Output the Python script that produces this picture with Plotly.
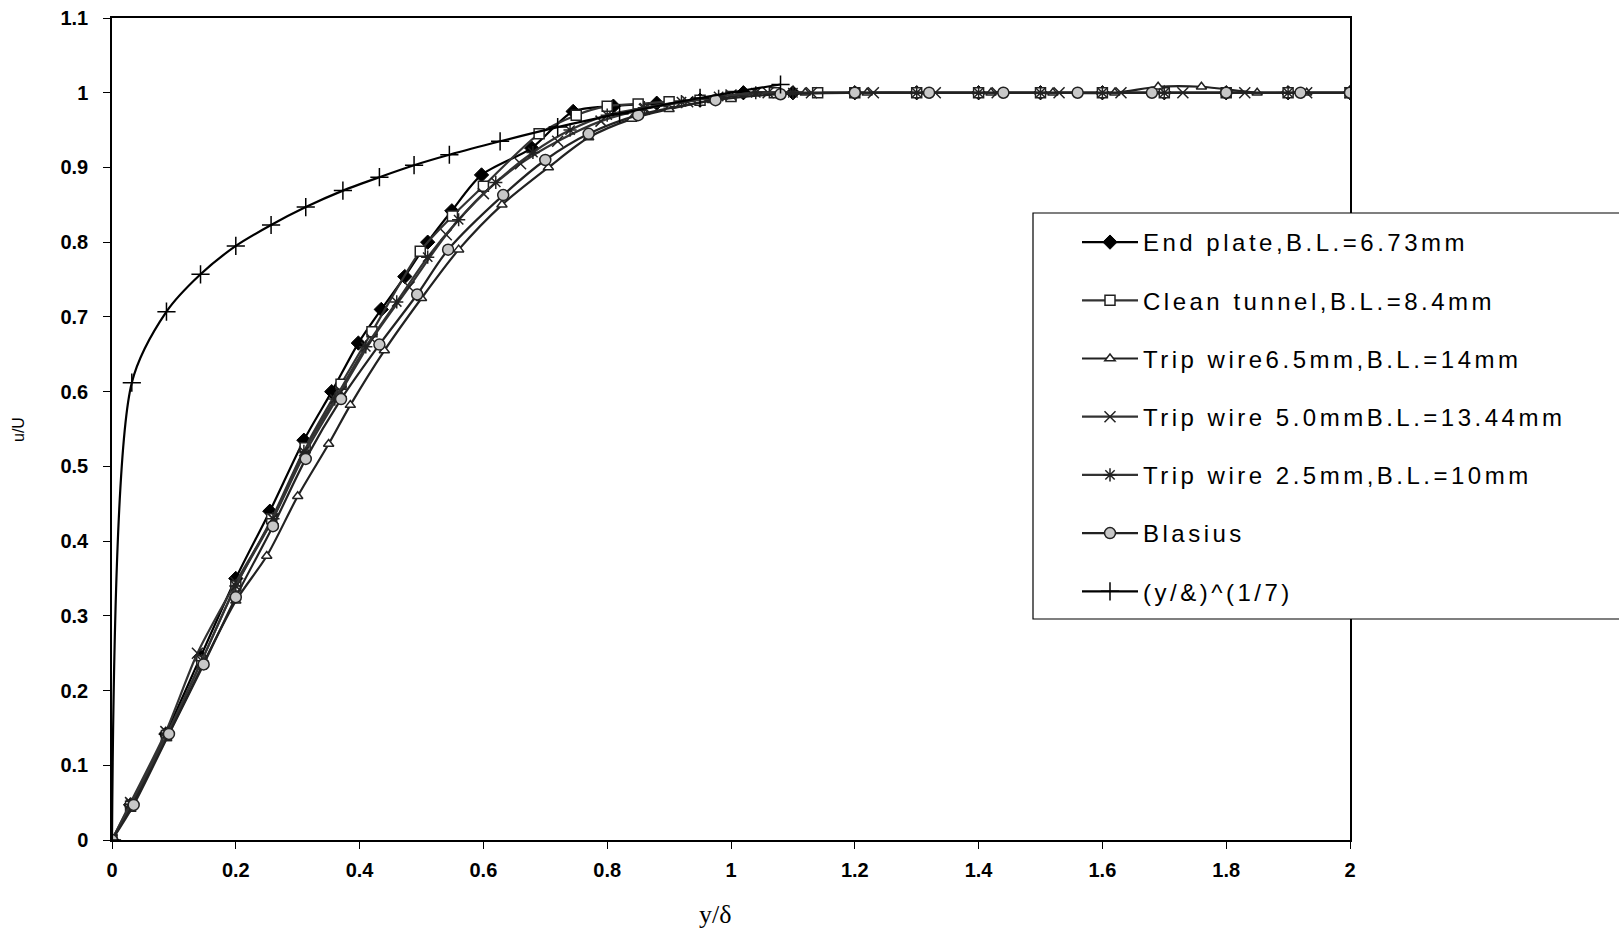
import plotly.graph_objects as go

# ---- data ----
end_plate_x = [0, 0.03, 0.087, 0.143, 0.2, 0.255, 0.31, 0.355, 0.398, 0.435, 0.473, 0.51, 0.549, 0.597, 0.678, 0.745, 0.81, 0.88, 0.95, 1.02, 1.1, 1.2, 1.3, 1.4, 1.5, 1.6, 1.7, 1.8, 1.9, 2.0]
end_plate_y = [0, 0.047, 0.142, 0.245, 0.35, 0.44, 0.535, 0.60, 0.665, 0.71, 0.754, 0.80, 0.842, 0.89, 0.926, 0.975, 0.982, 0.986, 0.99, 1.0, 1.0, 1.0, 1.0, 1.0, 1.0, 1.0, 1.0, 1.0, 1.0, 1.0]

clean_x = [0, 0.03, 0.088, 0.145, 0.2, 0.258, 0.312, 0.37, 0.42, 0.498, 0.55, 0.6, 0.69, 0.75, 0.8, 0.85, 0.9, 0.95, 1.0, 1.07, 1.14, 1.2, 1.3, 1.4, 1.5, 1.6, 1.7, 1.8, 1.9, 2.0]
clean_y = [0, 0.045, 0.14, 0.24, 0.34, 0.43, 0.525, 0.61, 0.68, 0.788, 0.835, 0.875, 0.945, 0.97, 0.982, 0.985, 0.988, 0.99, 0.995, 1.0, 1.0, 1.0, 1.0, 1.0, 1.0, 1.0, 1.0, 1.0, 1.0, 1.0]

trip65_x = [0, 0.03, 0.088, 0.145, 0.2, 0.25, 0.3, 0.35, 0.385, 0.44, 0.5, 0.56, 0.63, 0.705, 0.77, 0.84, 0.9, 0.97, 1.04, 1.12, 1.22, 1.32, 1.42, 1.52, 1.62, 1.69, 1.76, 1.85, 1.93, 2.0]
trip65_y = [0, 0.044, 0.136, 0.232, 0.32, 0.38, 0.46, 0.53, 0.582, 0.655, 0.725, 0.79, 0.85, 0.9, 0.94, 0.965, 0.978, 0.99, 1.0, 1.0, 1.0, 1.0, 1.0, 1.0, 1.0, 1.008, 1.008, 1.0, 1.0, 1.0]

trip50_x = [0, 0.03, 0.087, 0.138, 0.2, 0.26, 0.31, 0.37, 0.42, 0.48, 0.54, 0.6, 0.66, 0.72, 0.79, 0.86, 0.93, 1.0, 1.06, 1.13, 1.23, 1.33, 1.43, 1.53, 1.63, 1.73, 1.83, 1.93, 2.0]
trip50_y = [0, 0.05, 0.145, 0.25, 0.345, 0.43, 0.515, 0.6, 0.67, 0.74, 0.81, 0.865, 0.905, 0.935, 0.962, 0.978, 0.988, 0.997, 1.0, 1.0, 1.0, 1.0, 1.0, 1.0, 1.0, 1.0, 1.0, 1.0, 1.0]

trip25_x = [0, 0.03, 0.09, 0.145, 0.2, 0.26, 0.31, 0.36, 0.41, 0.46, 0.51, 0.56, 0.62, 0.68, 0.74, 0.8, 0.86, 0.92, 0.98, 1.04, 1.1, 1.2, 1.3, 1.4, 1.5, 1.6, 1.7, 1.8, 1.9, 2.0]
trip25_y = [0, 0.048, 0.143, 0.24, 0.34, 0.43, 0.52, 0.59, 0.66, 0.72, 0.78, 0.83, 0.88, 0.92, 0.95, 0.97, 0.98, 0.988, 0.995, 1.0, 1.0, 1.0, 1.0, 1.0, 1.0, 1.0, 1.0, 1.0, 1.0, 1.0]

blasius_x = [0, 0.035, 0.092, 0.148, 0.2, 0.26, 0.313, 0.37, 0.432, 0.493, 0.543, 0.632, 0.7, 0.77, 0.85, 0.975, 1.08, 1.2, 1.32, 1.44, 1.56, 1.68, 1.8, 1.92, 2.0]
blasius_y = [0, 0.047, 0.142, 0.235, 0.325, 0.42, 0.51, 0.59, 0.663, 0.73, 0.79, 0.863, 0.91, 0.945, 0.97, 0.99, 0.998, 1.0, 1.0, 1.0, 1.0, 1.0, 1.0, 1.0, 1.0]

power_x = [0, 0.032, 0.088, 0.143, 0.2, 0.257, 0.313, 0.373, 0.432, 0.488, 0.545, 0.627, 0.72, 0.82, 0.95, 1.08]
power_y = [0, 0.612, 0.707, 0.757, 0.795, 0.823, 0.847, 0.869, 0.887, 0.903, 0.917, 0.935, 0.954, 0.972, 0.993, 1.011]

names = ["End plate,B.L.=6.73mm", "Clean tunnel,B.L.=8.4mm", "Trip wire6.5mm,B.L.=14mm",
         "Trip wire 5.0mmB.L.=13.44mm", "Trip wire 2.5mm,B.L.=10mm", "Blasius", "(y/&)^(1/7)"]

x_ticks = [0, 0.2, 0.4, 0.6, 0.8, 1, 1.2, 1.4, 1.6, 1.8, 2]
y_ticks = [0, 0.1, 0.2, 0.3, 0.4, 0.5, 0.6, 0.7, 0.8, 0.9, 1, 1.1]

series = [
    (end_plate_x, end_plate_y, dict(symbol="diamond", size=11, color="black", line=dict(color="black", width=1)), "black"),
    (clean_x, clean_y, dict(symbol="square", size=10, color="white", line=dict(color="#222", width=1.5)), "#333"),
    (trip65_x, trip65_y, dict(symbol="triangle-up", size=9, color="white", line=dict(color="#222", width=1.5)), "#222"),
    (trip50_x, trip50_y, dict(symbol="x-thin", size=11, color="#222", line=dict(color="#222", width=1.5)), "#333"),
    (trip25_x, trip25_y, dict(symbol="asterisk", size=11, color="#222", line=dict(color="#222", width=1.5)), "#333"),
    (blasius_x, blasius_y, dict(symbol="circle", size=11, color="#c8c8c8", line=dict(color="#222", width=1.5)), "#222"),
    (power_x, power_y, dict(symbol="cross-thin", size=13, color="black", line=dict(color="black", width=1.5)), "black"),
]

fig = go.Figure()
for i, (xs, ys, mk, lc) in enumerate(series):
    fig.add_trace(go.Scatter(
        x=xs, y=ys, mode="lines+markers",
        name='<span style="letter-spacing:3.5px">' + names[i] + '</span>',
        legendgroup=str(i),
        line=dict(color=lc, width=2.2, shape="spline", smoothing=0.8),
        marker=mk,
    ))

W, H = 1619, 937
L, R, T, B = 112, 1350, 18, 840

def px_x(p):
    return (p - L) / (R - L)

def px_y(p):
    return (B - p) / (B - T)

fig.update_layout(
    width=W, height=H,
    margin=dict(l=L, r=W - R, t=T, b=H - B),
    paper_bgcolor="white", plot_bgcolor="white",
    font=dict(family="Liberation Sans, Arial", color="black"),
    showlegend=True,
    legend=dict(
        x=px_x(1077), y=px_y(220), xanchor="left", yanchor="top",
        bgcolor="rgba(0,0,0,0)", borderwidth=0,
        font=dict(size=24, family="Liberation Sans, Arial", color="black"),
        tracegroupgap=24, itemwidth=56,
    ),
    shapes=[dict(type="rect", xref="paper", yref="paper",
                 x0=px_x(1033), x1=px_x(1640), y0=px_y(619), y1=px_y(213),
                 line=dict(color="black", width=1.2), fillcolor="white", layer="above")],
    annotations=[
        dict(text="y/δ", xref="paper", yref="paper", x=px_x(715), y=px_y(914),
             xanchor="center", yanchor="middle", showarrow=False,
             font=dict(family="Liberation Serif, Times New Roman", size=26, color="black")),
        dict(text="u/U", xref="paper", yref="paper", x=px_x(18), y=px_y(430),
             xanchor="center", yanchor="middle", showarrow=False, textangle=-90,
             font=dict(family="Liberation Sans, Arial", size=16, color="black")),
    ],
)

fig.update_xaxes(range=[0, 2], tickvals=x_ticks, ticktext=[f"{v:g}" for v in x_ticks],
                 showgrid=False, zeroline=False, showline=True, mirror=True, automargin=False,
                 linecolor="black", linewidth=1.5, ticks="outside", ticklen=7,
                 tickcolor="black", tickwidth=1.2, ticklabelstandoff=4,
                 tickfont=dict(size=20, weight="bold", family="Liberation Sans, Arial"))
fig.update_yaxes(range=[0, 1.1], tickvals=y_ticks, ticktext=[f"{v:g}" for v in y_ticks],
                 showgrid=False, zeroline=False, showline=True, mirror=True, automargin=False,
                 linecolor="black", linewidth=1.5, ticks="outside", ticklen=7,
                 tickcolor="black", tickwidth=1.2, ticklabelstandoff=11,
                 tickfont=dict(size=20, weight="bold", family="Liberation Sans, Arial"))

fig.write_html("out.html")
